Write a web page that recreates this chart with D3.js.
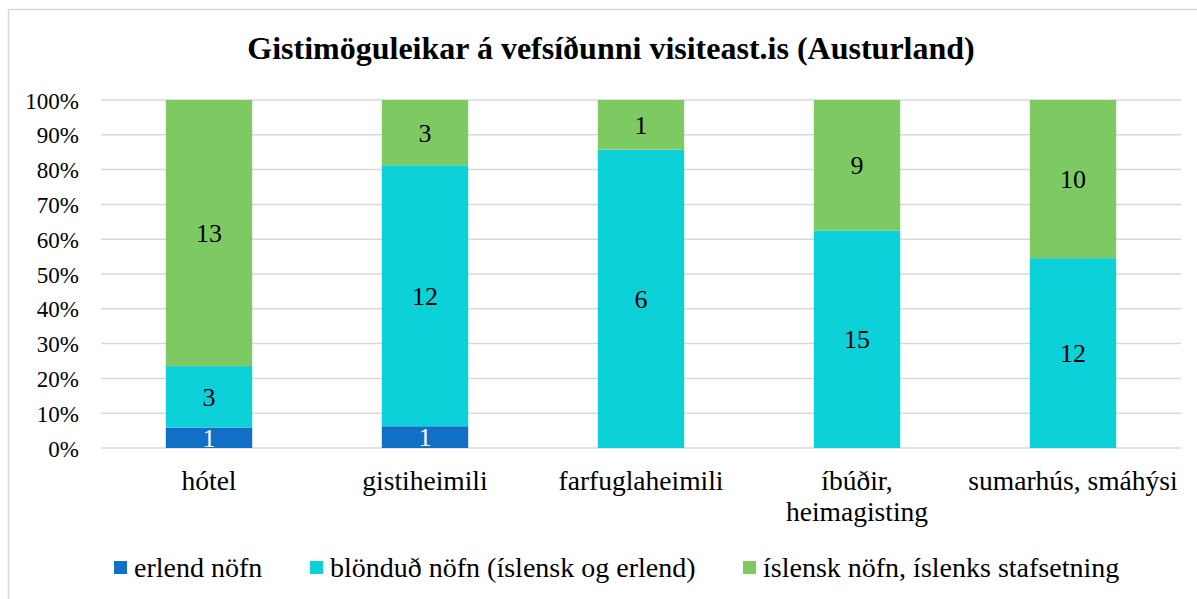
<!DOCTYPE html>
<html>
<head>
<meta charset="utf-8">
<script src="https://cdn.jsdelivr.net/npm/d3@7"></script>
<style>
  html, body { margin: 0; padding: 0; background: #fff; }
  svg { display: block; font-family: "Liberation Serif", "Times New Roman", serif; }
</style>
</head>
<body>
<svg id="chart" width="1197" height="599"></svg>
<script>
// Accommodation categories listed on visiteast.is
const categories = ["hótel", "gistiheimili", "farfuglaheimili", "íbúðir, heimagisting", "sumarhús, smáhýsi"];
// Counts per naming type
const erlend = [1, 1, 0, 0, 0];
const blondud = [3, 12, 6, 15, 12];
const islensk = [13, 3, 1, 9, 10];
const seriesNames = ["erlend nöfn", "blönduð nöfn (íslensk og erlend)", "íslensk nöfn, íslenks stafsetning"];
const yTicks = [0, 0.1, 0.2, 0.3, 0.4, 0.5, 0.6, 0.7, 0.8, 0.9, 1];
const title = "Gistimöguleikar á vefsíðunni visiteast.is (Austurland)";

const colors = ["#1170c6", "#0cd1d9", "#7eca62"];
const labelColors = ["#ffffff", "#000000", "#000000"];

const svg = d3.select("#chart");

// chart frame
svg.append("rect")
  .attr("x", 8.5).attr("y", 9.5)
  .attr("width", 1250).attr("height", 700)
  .attr("fill", "#fff").attr("stroke", "#d9d9d9").attr("stroke-width", 1.5);

svg.append("text")
  .attr("x", 611).attr("y", 59)
  .attr("text-anchor", "middle")
  .attr("font-size", 32).attr("font-weight", "bold")
  .attr("fill", "#000")
  .text(title);

const x = d3.scaleBand().domain(categories).range([101, 1181]).paddingInner(0.6).paddingOuter(0.3);
const y = d3.scaleLinear().domain([0, 1]).range([448, 100]);

// gridlines
svg.append("g").selectAll("line").data(yTicks).join("line")
  .attr("x1", 101).attr("x2", 1181)
  .attr("y1", d => y(d)).attr("y2", d => y(d))
  .attr("stroke", "#d9d9d9").attr("stroke-width", 1.5);

// y axis labels
const yAxis = d3.axisLeft(y).tickValues(yTicks).tickFormat(d3.format(".0%")).tickSize(0).tickPadding(0);
const yg = svg.append("g").attr("transform", "translate(79,0)").call(yAxis);
yg.select(".domain").remove();
yg.selectAll("text")
  .attr("font-family", "Liberation Serif, serif")
  .attr("font-size", 23).attr("fill", "#000").attr("dy", "0.35em");

// stacked data
const rows = categories.map((c, i) => ({ cat: c, s0: erlend[i], s1: blondud[i], s2: islensk[i] }));
const stack = d3.stack().keys(["s0", "s1", "s2"]).offset(d3.stackOffsetExpand);
const stacked = stack(rows);

const defs = svg.append("defs");

stacked.forEach((layer, li) => {
  const g = svg.append("g");
  layer.forEach((seg, ci) => {
    const v = seg.data[layer.key];
    if (v <= 0) return;
    const bx = x(seg.data.cat), bw = x.bandwidth();
    const y0 = y(seg[1]), y1 = y(seg[0]);
    g.append("rect")
      .attr("x", bx).attr("y", y0)
      .attr("width", bw).attr("height", y1 - y0)
      .attr("fill", colors[li]);
    const clipId = `clip-${li}-${ci}`;
    defs.append("clipPath").attr("id", clipId)
      .append("rect").attr("x", bx).attr("y", y0).attr("width", bw).attr("height", y1 - y0);
    g.append("text")
      .attr("clip-path", `url(#${clipId})`)
      .attr("x", bx + bw / 2).attr("y", (y0 + y1) / 2)
      .attr("dy", "0.35em")
      .attr("text-anchor", "middle")
      .attr("font-size", 26)
      .attr("fill", labelColors[li])
      .text(v);
  });
});

// category labels, wrapped to the band step
const step = x.step();
const catSize = 27.5;
const measure = svg.append("text").attr("font-size", catSize).attr("visibility", "hidden");
categories.forEach(c => {
  const words = c.split(" ");
  const lines = [];
  let line = [];
  words.forEach(w => {
    const trial = line.concat(w).join(" ");
    measure.text(trial);
    if (measure.node().getComputedTextLength() > step && line.length) {
      lines.push(line.join(" "));
      line = [w];
    } else {
      line.push(w);
    }
  });
  lines.push(line.join(" "));
  const t = svg.append("text")
    .attr("x", x(c) + x.bandwidth() / 2).attr("y", 490)
    .attr("text-anchor", "middle").attr("font-size", catSize).attr("fill", "#000");
  lines.forEach((l, i) => {
    t.append("tspan").attr("x", x(c) + x.bandwidth() / 2).attr("dy", i === 0 ? 0 : 31).text(l);
  });
});
measure.remove();

// legend
const legendX = [114, 310, 743];
seriesNames.forEach((n, i) => {
  svg.append("rect").attr("x", legendX[i]).attr("y", 561).attr("width", 13).attr("height", 13).attr("fill", colors[i]);
  svg.append("text").attr("x", legendX[i] + 20).attr("y", 577).attr("font-size", 28).attr("fill", "#000").text(n);
});
</script>
</body>
</html>
